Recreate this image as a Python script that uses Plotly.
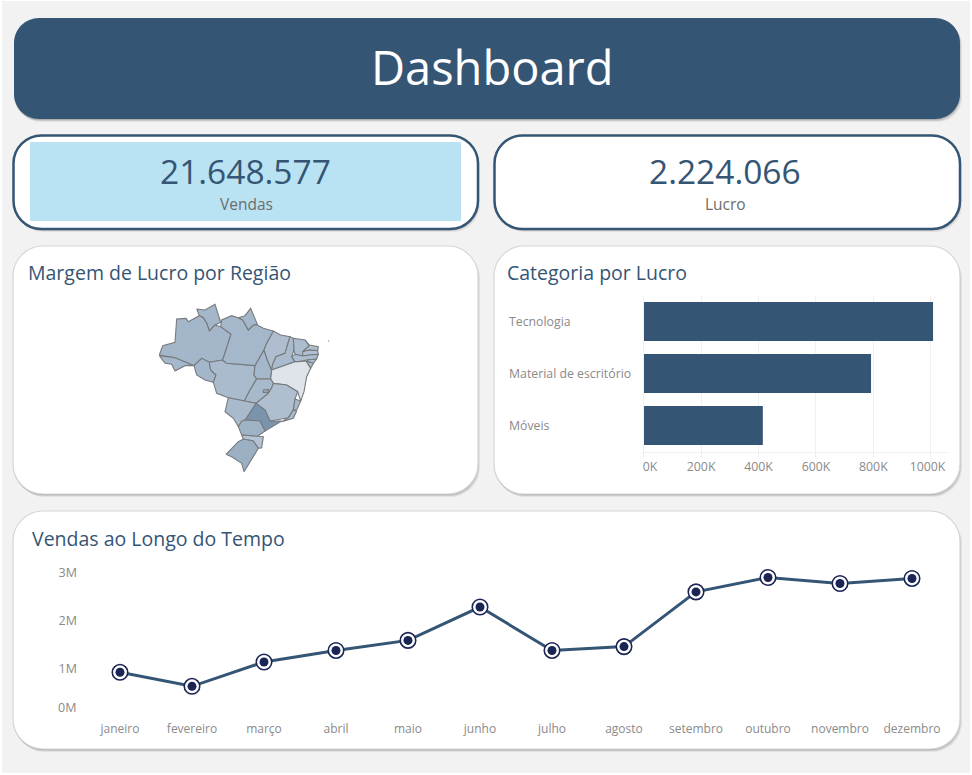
import plotly.graph_objects as go

W, H = 972, 775

# ---------- data ----------
TITLE = "Dashboard"
KPI_VENDAS = "21.648.577"
KPI_LUCRO = "2.224.066"

CATEGORIAS = ["Tecnologia", "Material de escritório", "Móveis"]
LUCRO_K = [1008, 792, 415]
LUCRO_TICKS = [0, 200, 400, 600, 800, 1000]
LUCRO_LABELS = ["\u00a0\u00a0\u00a0\u00a00K", "200K", "400K", "600K", "800K", "1000K\u00a0\u00a0"]

MESES = ["janeiro", "fevereiro", "março", "abril", "maio", "junho", "julho",
         "agosto", "setembro", "outubro", "novembro", "dezembro"]
VENDAS_M = [0.925, 0.633, 1.14, 1.38, 1.59, 2.285, 1.38, 1.46, 2.6, 2.9, 2.775, 2.88]

# state outlines (map grid units, y grows southwards)
ESTADOS = {
    "RR": [(140,42),(165,45),(195,28),(205,60),(212,82),(195,90),(178,108),(170,85),(160,68),(148,62)],
    "AM": [(28,180),(38,152),(75,142),(80,72),(108,70),(115,80),(148,62),(160,68),(170,85),(178,108),(195,90),(212,95),(243,118),(218,195),(178,202),(155,190),(132,212),(75,188)],
    "AC": [(28,182),(75,188),(132,212),(105,212),(75,228),(65,208),(45,205)],
    "RO": [(132,212),(155,190),(178,202),(182,225),(198,240),(190,262),(165,255),(140,240)],
    "MT": [(178,202),(218,195),(230,205),(315,212),(312,240),(320,252),(300,285),(283,318),(235,308),(200,295),(190,262),(198,240),(182,225)],
    "PA": [(212,95),(215,75),(245,62),(265,68),(278,75),(295,105),(310,90),(322,90),(340,100),(370,108),(348,150),(342,165),(315,212),(230,205),(218,195),(243,118)],
    "AP": [(265,68),(285,62),(302,40),(312,65),(322,88),(310,90),(295,105),(278,75)],
    "TO": [(342,165),(352,195),(365,225),(362,252),(320,252),(312,240),(315,212)],
    "MA": [(370,108),(392,120),(420,125),(412,150),(405,175),(378,185),(368,208),(365,225),(352,195),(342,165),(348,150)],
    "PI": [(420,125),(430,130),(432,165),(425,185),(435,200),(400,212),(365,225),(368,208),(378,185),(405,175),(412,150)],
    "CE": [(430,130),(465,135),(478,152),(458,170),(458,183),(435,178),(432,165)],
    "RN": [(465,135),(478,150),(505,155),(503,167),(478,165),(458,170),(478,152)],
    "PB": [(458,170),(478,165),(503,167),(505,178),(478,180),(458,183)],
    "PE": [(435,178),(458,183),(478,180),(505,178),(500,192),(470,195),(445,200),(435,200),(425,185)],
    "FN": [(534,137),(537,137),(536,140)],
    "AL": [(470,195),(500,192),(490,205),(475,200)],
    "SE": [(475,200),(490,205),(482,220),(468,198)],
    "BA": [(365,225),(400,212),(435,200),(445,200),(468,198),(482,220),(470,245),(462,290),(452,318),(443,290),(410,270),(370,265),(362,252)],
    "GO": [(320,252),(362,252),(370,265),(365,278),(355,295),(318,325),(283,318),(300,285)],
    "DF": [(340,285),(355,283),(355,292),(340,292)],
    "MG": [(370,265),(410,270),(443,290),(435,312),(430,345),(415,368),(360,378),(345,345),(318,325),(355,295),(365,278)],
    "ES": [(435,312),(452,318),(440,345),(430,345)],
    "RJ": [(415,368),(430,345),(440,348),(430,370),(395,380)],
    "SP": [(290,368),(318,325),(345,345),(360,378),(395,378),(345,408),(330,378),(290,375)],
    "MS": [(235,308),(283,318),(318,325),(290,368),(265,395),(250,370),(225,350)],
    "PR": [(275,378),(290,375),(330,378),(345,408),(320,425),(275,420),(265,395)],
    "SC": [(275,420),(320,425),(340,425),(335,458),(325,460),(310,438),(280,432)],
    "RS": [(228,478),(265,440),(280,432),(310,438),(325,460),(295,510),(282,530),(275,505),(245,485)],
}
# profit margin shade per state, 0 = palest, 1 = darkest
MARGEM = {"RR":.60,"AM":.60,"AC":.58,"RO":.60,"MT":.50,"PA":.58,"AP":.58,"TO":.58,"MA":.42,"PI":.50,
          "CE":.45,"RN":.40,"PB":.40,"PE":.45,"FN":.45,"AL":.45,"SE":.45,"BA":.0,"GO":.55,"DF":.70,"MG":.40,
          "ES":.55,"RJ":.55,"SP":1.0,"MS":.52,"PR":.68,"SC":.30,"RS":.72}

NAVY = "#355574"
INK = "#1b2555"
GREY = "#8a8a8a"
FONT = "Open Sans"


def px(x): return x / W
def py(y): return 1 - y / H


def rr(x0, y0, x1, y1, r):
    k = 0.45 * r
    pts = [("M", x0 + r, y0), ("L", x1 - r, y0), ("C", x1 - k, y0, x1, y0 + k, x1, y0 + r),
           ("L", x1, y1 - r), ("C", x1, y1 - k, x1 - k, y1, x1 - r, y1), ("L", x0 + r, y1),
           ("C", x0 + k, y1, x0, y1 - k, x0, y1 - r), ("L", x0, y0 + r),
           ("C", x0, y0 + k, x0 + k, y0, x0 + r, y0)]
    out = []
    for p in pts:
        coords = [f"{px(v):.5f},{py(w):.5f}" for v, w in zip(p[1::2], p[2::2])]
        out.append(p[0] + " ".join(coords))
    return " ".join(out) + " Z"


shapes = [dict(type="rect", xref="paper", yref="paper", x0=px(2), x1=px(970), y0=py(1), y1=py(773),
               fillcolor="#f2f2f2", line_width=0, layer="below")]


def panel(x0, y0, x1, y1, r, fill, border, bw):
    for d, op in ((3, .10), (2, .18), (1, .25)):
        shapes.append(dict(type="path", xref="paper", yref="paper", path=rr(x0 + d - 1, y0 + d, x1 + d - 1, y1 + d, r),
                           fillcolor=f"rgba(90,90,90,{op})", line_width=0, layer="below"))
    shapes.append(dict(type="path", xref="paper", yref="paper", path=rr(x0, y0, x1, y1, r),
                       fillcolor=fill, line=dict(color=border, width=bw), layer="below"))


panel(14, 18, 960, 119, 25, NAVY, NAVY, 0)
panel(13.5, 135.5, 478, 229, 28, "white", NAVY, 2.5)
shapes.append(dict(type="rect", xref="paper", yref="paper", x0=px(30), x1=px(461), y0=py(142), y1=py(221),
                   fillcolor="#b9e3f3", line_width=0, layer="below"))
panel(494.5, 135.5, 960, 229, 28, "white", NAVY, 2.5)
panel(13, 246, 478, 494, 30, "white", "#d6d6d6", 1.2)
panel(494, 246, 960, 494, 30, "white", "#d6d6d6", 1.2)
panel(13, 511, 960, 749, 30, "white", "#d6d6d6", 1.2)


def txt(x, y, s, size, color, anchor="center", weight=None):
    return dict(xref="paper", yref="paper", x=px(x), y=py(y), text=s, showarrow=False, xanchor=anchor, yanchor="middle",
                font=dict(family=FONT, size=size, color=color, weight=weight))


annotations = [
    txt(492, 67, TITLE, 47, "white"),
    txt(245.5, 171, KPI_VENDAS, 33.5, NAVY),
    txt(246, 204, "Vendas", 15.5, "#6d6d6d"),
    txt(725, 171, KPI_LUCRO, 33.5, NAVY),
    txt(725, 204, "Lucro", 15.5, "#6d6d6d"),
    txt(26, 272, "Margem de Lucro por Região", 19.5, NAVY, "left", 500),
    txt(505, 272, "Categoria por Lucro", 19.5, NAVY, "left", 500),
    txt(30, 538, "Vendas ao Longo do Tempo", 19.5, NAVY, "left", 500),
]

fig = go.Figure()


def cor(m):
    if m == 0:
        a, b, t = (222, 228, 234), (222, 228, 234), 0
    elif m <= .7:
        a, b, t = (198, 209, 221), (158, 178, 198), m / .7
    else:
        a, b, t = (158, 178, 198), (122, 148, 174), (m - .7) / .3
    return "rgb(%d,%d,%d)" % tuple(round(p + (q - p) * t) for p, q in zip(a, b))


for uf, pts in ESTADOS.items():
    xs = [p[0] for p in pts] + [pts[0][0]]
    ys = [p[1] for p in pts] + [pts[0][1]]
    fig.add_trace(go.Scatter(x=xs, y=ys, xaxis="x3", yaxis="y3", mode="lines", fill="toself", name=uf,
                             fillcolor=cor(MARGEM[uf]), line=dict(color="#777a7d", width=1.1 if uf != "FN" else 0.4),
                             hoverinfo="name", showlegend=False))

fig.add_trace(go.Bar(x=LUCRO_K, y=CATEGORIAS, orientation="h", xaxis="x2", yaxis="y2",
                     marker=dict(color=NAVY, line_width=0), showlegend=False))
for c in CATEGORIAS:
    annotations.append(dict(xref="paper", yref="y2", x=px(507), y=c, text=c, showarrow=False, xanchor="left",
                            font=dict(family=FONT, size=12.3, color=GREY)))

fig.add_trace(go.Scatter(x=MESES, y=VENDAS_M, mode="lines", line=dict(color=NAVY, width=3), showlegend=False))
fig.add_trace(go.Scatter(x=MESES, y=VENDAS_M, mode="markers", showlegend=False,
                         marker=dict(size=15.5, color="white", line=dict(color=INK, width=1.6))))
fig.add_trace(go.Scatter(x=MESES, y=VENDAS_M, mode="markers", showlegend=False, marker=dict(size=9, color=INK)))
annotations.append(dict(xref="paper", yref="y", x=px(78), y=0, yshift=9, text="0M", showarrow=False, xanchor="right",
                        font=dict(family=FONT, size=12.5, color=GREY)))

fig.update_layout(
    width=W, height=H, margin=dict(l=0, r=0, t=0, b=0, autoexpand=False), paper_bgcolor="white", plot_bgcolor="rgba(0,0,0,0)",
    shapes=shapes, annotations=annotations, showlegend=False, bargap=0.25, font=dict(family=FONT),
    xaxis=dict(domain=[px(84), px(948)], type="category", categoryorder="array", categoryarray=MESES, range=[-0.5, 11.5],
               showgrid=False, showline=False, zeroline=False, ticks="", ticklabelstandoff=3,
               tickfont=dict(family=FONT, size=12, color=GREY)),
    yaxis=dict(domain=[py(716.7), py(565)], range=[0, (716.7 - 565) / 48], tickvals=[1, 2, 3], ticktext=["1M", "2M", "3M"],
               showgrid=False, showline=False, zeroline=False, ticks="", ticklabelstandoff=6,
               tickfont=dict(family=FONT, size=12.5, color=GREY)),
    xaxis2=dict(anchor="y2", domain=[px(643.7), px(947.7)], range=[0, 1059], tickvals=LUCRO_TICKS, ticktext=LUCRO_LABELS,
                showgrid=True, gridcolor="#f0f0f0", gridwidth=1, showline=True, linecolor="#f0f0f0", zeroline=False,
                ticks="outside", ticklen=4, tickcolor="#ececec", tickfont=dict(family=FONT, size=12.3, color=GREY)),
    yaxis2=dict(anchor="x2", domain=[py(451.5), py(295.5)], type="category", categoryorder="array", categoryarray=CATEGORIAS,
                range=[2.5, -0.5], showticklabels=False, showgrid=False, showline=True, linecolor="#f0f0f0", zeroline=False),
    xaxis3=dict(anchor="y3", domain=[px(150), px(340)], range=[0, 570], visible=False),
    yaxis3=dict(anchor="x3", domain=[py(480), py(295)], range=[555, 0], visible=False),
)
fig.write_html("out.html", config=dict(displayModeBar=False), post_script="document.body.style.margin='0';document.body.style.overflow='hidden';")
